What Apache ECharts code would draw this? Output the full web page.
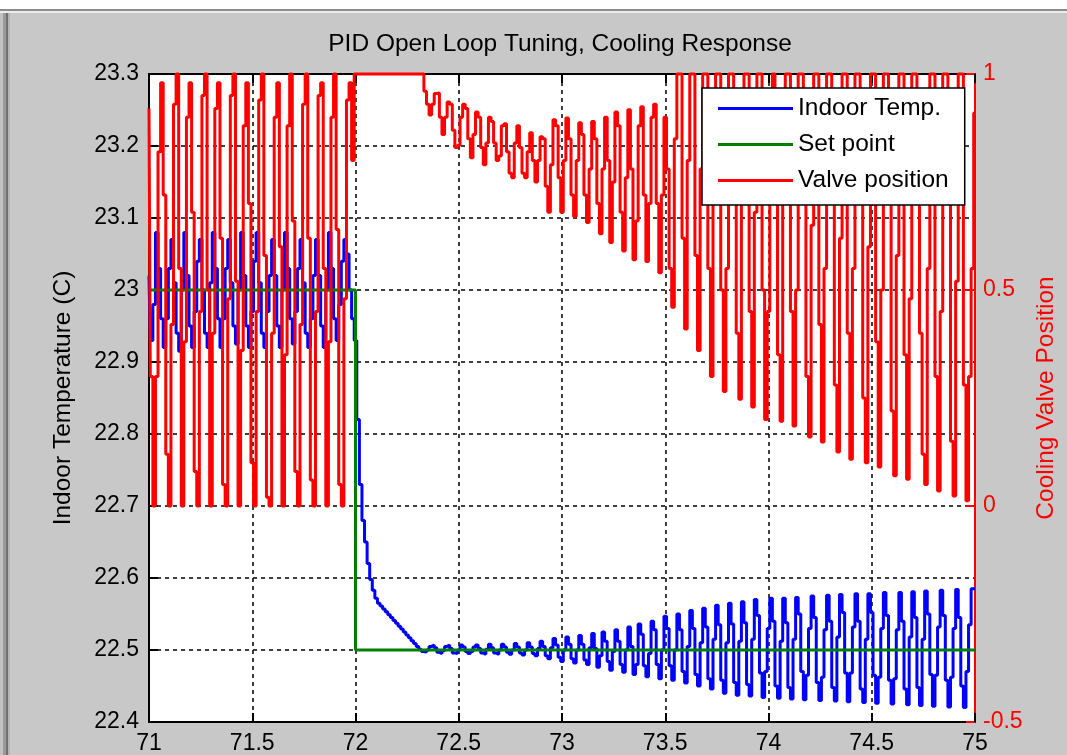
<!DOCTYPE html>
<html>
<head>
<meta charset="utf-8">
<script src="https://cdn.jsdelivr.net/npm/echarts@6/dist/echarts.min.js"></script>
<style>
  html, body { margin: 0; padding: 0; background: #c8c8c8; }
  #chart { width: 1067px; height: 755px; }
</style>
</head>
<body>
<div id="chart"></div>
<script>
// Simulation output sampled every SAMPLE_STEP hours starting at T_START
const T_START = 71;
const SAMPLE_STEP = 0.0125;

// Indoor temperature (C), one value per sample
const indoorTemp = [
  23.02, 22.93, 22.98, 23.08, 23.03, 22.96, 22.92, 22.96, 23.03, 23.07,
  23.01, 22.94, 22.915, 23.00, 23.08, 23.02, 22.95, 22.92, 22.97, 23.04,
  23.07, 23.00, 22.94, 22.92, 23.01, 23.08, 23.03, 22.96, 22.92, 22.96,
  23.03, 23.07, 23.01, 22.95, 22.925, 23.00, 23.08, 23.02, 22.95, 22.92,
  22.97, 23.04, 23.08, 23.01, 22.94, 22.92, 22.97, 23.02, 23.07, 23.02,
  22.95, 22.92, 23.00, 23.08, 23.03, 22.96, 22.925, 22.97, 23.03, 23.07,
  23.01, 22.94, 22.92, 22.96, 23.02, 23.07, 23.02, 22.95, 22.92, 23.00,
  23.08, 23.03, 22.96, 22.93, 22.98, 23.04, 23.07, 23.05, 23.00, 22.96,
  22.93, 22.82, 22.73, 22.68, 22.65, 22.62, 22.598, 22.583, 22.572, 22.565,
  22.561, 22.557, 22.553, 22.549, 22.545, 22.541, 22.537, 22.533, 22.529, 22.525,
  22.521, 22.517, 22.513, 22.509, 22.505, 22.501, 22.498, 22.497, 22.500, 22.505,
  22.507, 22.503, 22.497, 22.495, 22.499, 22.505, 22.507, 22.502, 22.496, 22.495,
  22.500, 22.507, 22.504, 22.498, 22.495, 22.498, 22.504, 22.507, 22.502, 22.496,
  22.494, 22.501, 22.508, 22.503, 22.496, 22.494, 22.500, 22.508, 22.504, 22.497,
  22.494, 22.500, 22.509, 22.504, 22.496, 22.493, 22.500, 22.510, 22.504, 22.495,
  22.492, 22.502, 22.512, 22.505, 22.492, 22.488, 22.503, 22.516, 22.507, 22.490,
  22.484, 22.500, 22.518, 22.508, 22.488, 22.482, 22.500, 22.520, 22.508, 22.486,
  22.480, 22.503, 22.523, 22.502, 22.476, 22.492, 22.525, 22.512, 22.484, 22.472,
  22.498, 22.528, 22.512, 22.480, 22.469, 22.500, 22.532, 22.505, 22.466, 22.480,
  22.536, 22.522, 22.478, 22.463, 22.495, 22.540, 22.528, 22.480, 22.460, 22.500,
  22.547, 22.530, 22.478, 22.458, 22.500, 22.550, 22.528, 22.470, 22.454, 22.505,
  22.555, 22.530, 22.466, 22.450, 22.510, 22.558, 22.532, 22.460, 22.446, 22.515,
  22.562, 22.535, 22.458, 22.440, 22.510, 22.565, 22.536, 22.455, 22.437, 22.512,
  22.567, 22.538, 22.452, 22.436, 22.515, 22.570, 22.548, 22.468, 22.434, 22.470,
  22.530, 22.572, 22.540, 22.450, 22.433, 22.512, 22.572, 22.538, 22.448, 22.432,
  22.515, 22.573, 22.550, 22.470, 22.431, 22.465, 22.530, 22.575, 22.545, 22.455,
  22.430, 22.462, 22.528, 22.576, 22.540, 22.448, 22.429, 22.518, 22.577, 22.552,
  22.468, 22.428, 22.468, 22.532, 22.578, 22.540, 22.446, 22.427, 22.515, 22.578,
  22.552, 22.465, 22.426, 22.462, 22.530, 22.580, 22.548, 22.458, 22.425, 22.460,
  22.528, 22.580, 22.540, 22.446, 22.424, 22.518, 22.581, 22.545, 22.448, 22.423,
  22.515, 22.582, 22.550, 22.466, 22.422, 22.465, 22.532, 22.583, 22.548, 22.458,
  22.421, 22.462, 22.530, 22.584, 22.545, 22.450, 22.420, 22.470, 22.535, 22.585,
  22.585
];

// Cooling valve position (0..1), one value per sample
const valvePosition = [
  0.92, 0.30, 0, 0.30, 0.82, 0.98, 0.72, 0.12, 0, 0.42,
  0.93, 1.0, 0.55, 0, 0.38, 0.90, 0.98, 0.68, 0.08, 0,
  0.45, 0.95, 1.0, 0.50, 0, 0.40, 0.92, 0.98, 0.62, 0.05,
  0, 0.48, 0.95, 1.0, 0.52, 0, 0.36, 0.88, 0.98, 0.70,
  0.10, 0, 0.45, 0.94, 1.0, 0.58, 0.02, 0, 0.40, 0.90,
  0.98, 0.60, 0, 0.35, 0.88, 1.0, 0.66, 0.08, 0, 0.42,
  0.93, 1.0, 0.62, 0.06, 0, 0.45, 0.95, 0.98, 0.55, 0,
  0.38, 0.90, 1.0, 0.64, 0.05, 0, 0.48, 0.94, 0.98, 0.80,
  1, 1, 1, 1, 1, 1, 1, 1, 1, 1,
  1, 1, 1, 1, 1, 1, 1, 1, 1, 1,
  1, 1, 1, 1, 1, 1, 1, 0.96, 0.93, 0.905,
  0.93, 0.955, 0.956, 0.90, 0.86, 0.90, 0.935, 0.93, 0.87, 0.83,
  0.835, 0.90, 0.93, 0.92, 0.85, 0.806, 0.86, 0.912, 0.90, 0.83,
  0.79, 0.84, 0.90, 0.89, 0.84, 0.80, 0.81, 0.88, 0.885, 0.82,
  0.77, 0.76, 0.84, 0.88, 0.83, 0.77, 0.76, 0.82, 0.864, 0.80,
  0.75, 0.80, 0.855, 0.85, 0.74, 0.68, 0.79, 0.894, 0.88, 0.76,
  0.68, 0.80, 0.898, 0.85, 0.72, 0.67, 0.80, 0.887, 0.86, 0.72,
  0.656, 0.78, 0.89, 0.85, 0.70, 0.63, 0.78, 0.90, 0.80, 0.61,
  0.75, 0.912, 0.88, 0.68, 0.59, 0.76, 0.917, 0.78, 0.57, 0.66,
  0.88, 0.924, 0.72, 0.566, 0.70, 0.90, 0.93, 0.70, 0.54, 0.72,
  0.90, 0.78, 0.55, 0.46, 0.85, 1, 1, 0.62, 0.41, 0.80,
  1, 1, 0.58, 0.36, 0.78, 1, 1, 0.55, 0.30, 0.72,
  1, 1, 0.50, 0.265, 0.55, 1, 1, 0.85, 0.40, 0.247,
  0.70, 1, 1, 0.45, 0.229, 0.68, 1, 1, 0.50, 0.20,
  0.45, 0.95, 1, 0.82, 0.35, 0.196, 0.70, 1, 1, 0.45,
  0.185, 0.50, 1, 1, 0.80, 0.30, 0.16, 0.65, 1, 1,
  0.42, 0.148, 0.55, 1, 1, 0.78, 0.28, 0.125, 0.62, 1,
  1, 0.40, 0.108, 0.55, 1, 1, 0.75, 0.25, 0.10, 0.60,
  1, 1, 0.38, 0.09, 0.50, 1, 1, 0.72, 0.22, 0.07,
  0.58, 1, 1, 0.35, 0.062, 0.48, 1, 1, 0.85, 0.40,
  0.12, 0.05, 0.55, 1, 1, 0.30, 0.035, 0.45, 1, 1,
  0.70, 0.15, 0.023, 0.52, 1, 1, 0.28, 0.012, 0.30, 0.55,
  0.91
];

// Set point: step from 23 C down to 22.5 C at t = 72
const setPointTime = [71, 72, 72, 75];
const setPointTemp = [23, 23, 22.5, 22.5];

// Axis ranges
const timeRange = { min: 71, max: 75, step: 0.5 };
const tempRange = { min: 22.4, max: 23.3, step: 0.1 };
const valveRange = { min: -0.5, max: 1, step: 0.5 };

const FONT = "'Liberation Sans', Arial, sans-serif";
const LINE_W = 3;

const sampled = values => values.map((v, i) => [+(T_START + i * SAMPLE_STEP).toFixed(4), v]);
const setPointData = setPointTime.map((t, i) => [t, setPointTemp[i]]);
const fmt = v => String(+v.toFixed(2));

const chart = echarts.init(document.getElementById('chart'), null, { renderer: 'canvas' });

chart.setOption({
  animation: false,
  backgroundColor: '#c8c8c8',
  textStyle: { fontFamily: FONT },
  title: {
    text: 'PID Open Loop Tuning, Cooling Response',
    left: 560,
    top: 32,
    textAlign: 'center',
    padding: 0,
    textStyle: { fontFamily: FONT, fontSize: 24.5, fontWeight: 'normal', color: '#000' }
  },
  graphic: [
    // window frame along the top and left edges
    { type: 'rect', shape: { x: 0, y: 0, width: 1067, height: 9 }, style: { fill: '#ffffff' }, silent: true },
    { type: 'rect', shape: { x: 0, y: 9, width: 1067, height: 2 }, style: { fill: '#8c8c8c' }, silent: true },
    { type: 'rect', shape: { x: 0, y: 11, width: 1067, height: 2 }, style: { fill: '#ececec' }, silent: true },
    { type: 'rect', shape: { x: 0, y: 13, width: 3, height: 742 }, style: { fill: '#c2c2c2' }, silent: true },
    { type: 'rect', shape: { x: 3, y: 13, width: 3, height: 742 }, style: { fill: '#9a9a9a' }, silent: true },
    { type: 'rect', shape: { x: 6, y: 13, width: 2, height: 742 }, style: { fill: '#707070' }, silent: true },
    { type: 'rect', shape: { x: 8, y: 13, width: 2, height: 742 }, style: { fill: '#b4b4b4' }, silent: true }
  ],
  grid: {
    left: 149, right: 92, top: 74, bottom: 31,
    show: true, backgroundColor: '#ffffff', borderWidth: 0
  },
  legend: {
    orient: 'vertical',
    left: 702,
    top: 88,
    z: 50,
    backgroundColor: '#ffffff',
    borderColor: '#000',
    borderWidth: 1.5,
    borderRadius: 0,
    padding: [8, 16, 12, 16],
    itemGap: 11,
    itemWidth: 75,
    itemHeight: 3,
    icon: 'rect',
    textStyle: { fontFamily: FONT, fontSize: 24.5, color: '#000', lineHeight: 24 },
    data: ['Indoor Temp.', 'Set point', 'Valve position']
  },
  xAxis: [
    {
      type: 'value', position: 'bottom',
      min: timeRange.min, max: timeRange.max, interval: timeRange.step,
      axisLine: { show: true, onZero: false, lineStyle: { color: '#000', width: 2 } },
      axisTick: { show: true, inside: true, length: 9, lineStyle: { color: '#000', width: 2 } },
      axisLabel: { color: '#000', fontSize: 23, fontFamily: FONT, margin: 10, formatter: fmt },
      splitLine: { show: true, lineStyle: { color: '#000', width: 1.5, type: [4, 4] } }
    },
    {
      type: 'value', position: 'top',
      min: timeRange.min, max: timeRange.max, interval: timeRange.step,
      axisLine: { show: true, onZero: false, lineStyle: { color: '#000', width: 2 } },
      axisTick: { show: true, inside: true, length: 9, lineStyle: { color: '#000', width: 2 } },
      axisLabel: { show: false },
      splitLine: { show: false }
    }
  ],
  yAxis: [
    {
      type: 'value', position: 'left',
      min: tempRange.min, max: tempRange.max, interval: tempRange.step,
      name: 'Indoor Temperature (C)',
      nameLocation: 'middle', nameRotate: 90, nameGap: 73,
      nameTextStyle: { color: '#000', fontSize: 24.5, fontFamily: FONT },
      axisLine: { show: true, onZero: false, lineStyle: { color: '#000', width: 2 } },
      axisTick: { show: true, inside: true, length: 9, lineStyle: { color: '#000', width: 2 } },
      axisLabel: { color: '#000', fontSize: 23, fontFamily: FONT, margin: 10, formatter: fmt },
      splitLine: { show: true, lineStyle: { color: '#000', width: 1.5, type: [4, 4] } }
    },
    {
      type: 'value', position: 'right',
      min: valveRange.min, max: valveRange.max, interval: valveRange.step,
      name: 'Cooling Valve Position',
      nameLocation: 'middle', nameRotate: 90, nameGap: 54,
      nameTextStyle: { color: '#ff0000', fontSize: 24.5, fontFamily: FONT },
      axisLine: { show: true, onZero: false, lineStyle: { color: '#ff0000', width: 2 } },
      axisTick: { show: true, inside: true, length: 9, lineStyle: { color: '#ff0000', width: 2 } },
      axisLabel: { color: '#ff0000', fontSize: 23, fontFamily: FONT, margin: 8, formatter: fmt },
      splitLine: { show: false }
    }
  ],
  series: [
    {
      name: 'Indoor Temp.', type: 'line', xAxisIndex: 0, yAxisIndex: 0,
      data: sampled(indoorTemp), step: 'middle', showSymbol: false, clip: false, z: 2,
      color: '#0000ff', lineStyle: { color: '#0000ff', width: LINE_W }
    },
    {
      name: 'Set point', type: 'line', xAxisIndex: 0, yAxisIndex: 0,
      data: setPointData, showSymbol: false, clip: false, z: 2,
      color: '#008000', lineStyle: { color: '#008000', width: LINE_W }
    },
    {
      name: 'Valve position', type: 'line', xAxisIndex: 0, yAxisIndex: 1,
      data: sampled(valvePosition), step: 'middle', showSymbol: false, clip: false, z: 2,
      color: '#ff0000', lineStyle: { color: '#ff0000', width: LINE_W }
    }
  ]
});
</script>
</body>
</html>
